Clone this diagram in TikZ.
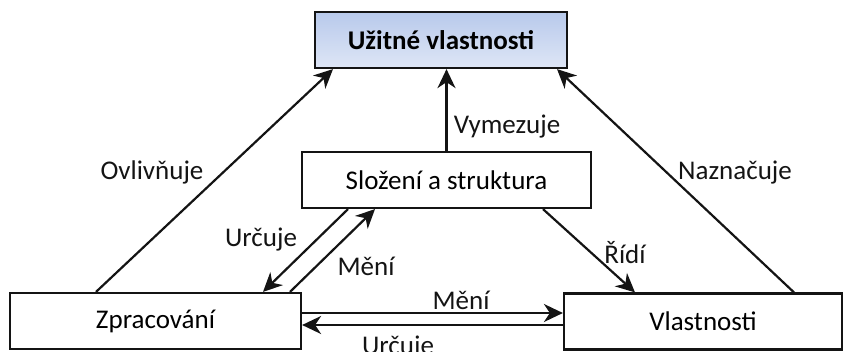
\documentclass[tikz,border=0pt]{standalone}
\usepackage{fontspec}
\setmainfont{Carlito}
\usepackage{xcolor}
\usepackage{tikz}
\usetikzlibrary{arrows.meta, calc}
\definecolor{boxblue}{RGB}{184, 201, 235}
\definecolor{boxpale}{RGB}{222, 230, 246}
\definecolor{inkdark}{RGB}{20, 20, 20}

\begin{document}
\begin{tikzpicture}[
    x=1pt, y=-1pt,
    box/.style={draw=inkdark, line width=2.2pt, minimum height=56pt,
                inner sep=0pt, font=\fontsize{27}{32}\selectfont},
    topbox/.style={box, top color=boxblue, bottom color=boxpale,
                   font=\fontsize{27}{32}\selectfont\bfseries},
    lbl/.style={inner sep=0pt, text=inkdark, font=\fontsize{27}{32}\selectfont},
    arr/.style={draw=inkdark, line width=2.2pt,
                -{Stealth[length=19pt, width=18pt, inset=6pt]}}
]
    \useasboundingbox (0,0) rectangle (843,351);

    % boxes
    \node[topbox, minimum width=252pt] (uzitne) at (441,40) {Užitné vlastnosti};
    \node[box, minimum width=289pt] (slozeni) at (446.5,180) {Složení a struktura};
    \node[box, minimum width=291pt] (zprac) at (155.5,321) {Zpracování};
    \node[box, minimum width=278pt] (vlast) at (703,321.5) {Vlastnosti};

    % arrows up to the top box
    \draw[arr] ([xshift=-59.5pt]zprac.north) -- ([xshift=-108pt]uzitne.south);
    \draw[arr] (slozeni.north) -- (slozeni.north |- uzitne.south);
    \draw[arr] ([xshift=91pt]vlast.north) -- ([xshift=116pt]uzitne.south);

    % middle box <-> bottom boxes
    \draw[arr] ([xshift=-98.5pt]slozeni.south) -- ([xshift=107.5pt]zprac.north);
    \draw[arr] ([xshift=134.5pt]zprac.north) -- ([xshift=-71.5pt]slozeni.south);
    \draw[arr] ([xshift=96.5pt]slozeni.south) -- ([xshift=-68pt]vlast.north);

    % bottom boxes
    \draw[arr] ([yshift=8pt]zprac.east) -- ([yshift=8pt]zprac.east -| vlast.west);
    \draw[arr] ([yshift=-4pt]zprac.east -| vlast.west) -- ([yshift=-4pt]zprac.east);

    % labels
    \node[lbl] (ovlivnuje) at (152,172) {Ovlivňuje};
    \node[lbl] (vymezuje) at (507,127) {Vymezuje};
    \node[lbl] (naznacuje) at (735,173) {Naznačuje};
    \node[lbl] (urcujeA) at (261,240) {Určuje};
    \node[lbl] (meniA) at (366,266) {Mění};
    \node[lbl] (ridi) at (625,253) {Řídí};
    \node[lbl] (meniB) at (461,300) {Mění};
    \node[lbl] (urcujeB) at (398,348) {Určuje};
\end{tikzpicture}
\end{document}
